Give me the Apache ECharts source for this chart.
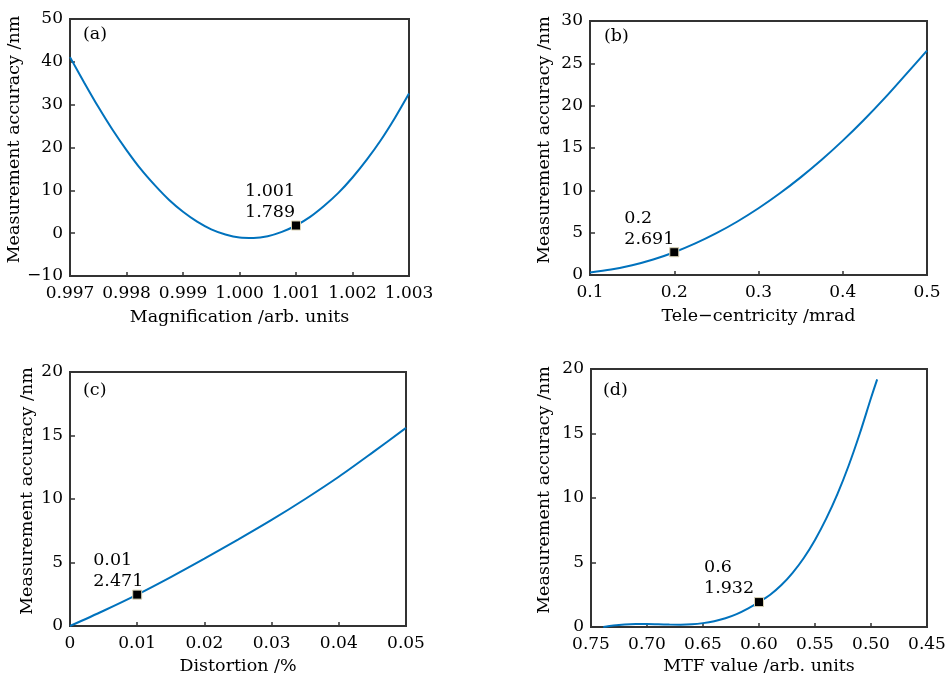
<!DOCTYPE html>
<html>
<head>
<meta charset="utf-8">
<script src="https://cdn.jsdelivr.net/npm/echarts@6/dist/echarts.min.js"></script>
<style>html,body{margin:0;padding:0;background:#fff}#c{width:951px;height:676px}</style>
</head>
<body>
<div id="c"></div>
<script>
// (a) Magnification
const magX = [0.997, 0.99725, 0.9975, 0.99775, 0.998, 0.99825, 0.9985, 0.99875, 0.999, 0.99925, 0.9995, 0.99975, 1.000, 1.00025, 1.0005, 1.00075, 1.001, 1.00125, 1.0015, 1.00175, 1.002, 1.00225, 1.0025, 1.00275, 1.003];
const magY = [41.1, 35.2, 29.5, 24.2, 19.4, 15.0, 11.2, 7.8, 5.0, 2.7, 0.9, -0.3, -1.0, -1.1, -0.7, 0.3, 1.789, 3.8, 6.4, 9.4, 13.0, 17.1, 21.7, 26.9, 32.6];
const magMark = [1.001, 1.789];
// (b) Tele-centricity
const teleX = [0.1, 0.125, 0.15, 0.175, 0.2, 0.225, 0.25, 0.275, 0.3, 0.325, 0.35, 0.375, 0.4, 0.425, 0.45, 0.475, 0.5];
const teleY = [0.30, 0.64, 1.15, 1.83, 2.691, 3.73, 4.94, 6.32, 7.88, 9.62, 11.53, 13.61, 15.87, 18.31, 20.92, 23.70, 26.5];
const teleMark = [0.2, 2.691];
// (c) Distortion
const distX = [0, 0.005, 0.01, 0.015, 0.02, 0.025, 0.03, 0.035, 0.04, 0.045, 0.05];
const distY = [0, 1.2, 2.471, 3.85, 5.3, 6.8, 8.35, 10.0, 11.75, 13.65, 15.6];
const distMark = [0.01, 2.471];
// (d) MTF value
const mtfX = [0.739, 0.73, 0.72, 0.71, 0.70, 0.69, 0.68, 0.67, 0.66, 0.65, 0.64, 0.63, 0.62, 0.61, 0.60, 0.59, 0.58, 0.57, 0.56, 0.55, 0.54, 0.53, 0.52, 0.51, 0.50, 0.4945];
const mtfY = [0.0, 0.12, 0.2, 0.23, 0.23, 0.21, 0.19, 0.18, 0.21, 0.3, 0.45, 0.68, 1.0, 1.43, 1.932, 2.5, 3.25, 4.2, 5.35, 6.75, 8.4, 10.3, 12.5, 15.0, 17.75, 19.2];
const mtfMark = [0.6, 1.932];

const yTitle = 'Measurement accuracy /nm';
const xTitles = ['Magnification /arb. units', 'Tele\u2212centricity /mrad', 'Distortion /%', 'MTF value /arb. units'];
const panelTags = ['(a)', '(b)', '(c)', '(d)'];

const FONT = 'DejaVu Serif';
const AX = '#333333';
const BLUE = '#0072BD';
const TICK_FS = 17;
const TITLE_FS = 17.5;

const chart = echarts.init(document.getElementById('c'), null, {renderer: 'canvas'});

const grids = [
  {left: 70, top: 19, width: 339, height: 257},
  {left: 590, top: 21, width: 337, height: 254},
  {left: 70, top: 372, width: 336, height: 255},
  {left: 591, top: 369, width: 336, height: 260}
];

function xAx(i, min, max, interval, fmt, gap, inverse) {
  return {
    type: 'value', gridIndex: i, min: min, max: max, interval: interval, inverse: !!inverse,
    name: xTitles[i], nameLocation: 'middle', nameGap: gap,
    nameTextStyle: {fontFamily: FONT, fontSize: TITLE_FS, color: '#000'},
    axisLine: {show: true, onZero: false, lineStyle: {color: AX, width: 2}},
    axisTick: {show: true, inside: true, length: 4, lineStyle: {color: AX, width: 1.5}},
    axisLabel: {fontFamily: FONT, fontSize: TICK_FS, color: '#000', margin: 9, formatter: fmt, showMinLabel: true, showMaxLabel: true},
    splitLine: {show: false}
  };
}
function yAx(i, min, max, interval, gap) {
  return {
    type: 'value', gridIndex: i, min: min, max: max, interval: interval,
    name: yTitle, nameLocation: 'middle', nameGap: gap, nameRotate: 90,
    nameTextStyle: {fontFamily: FONT, fontSize: TITLE_FS, color: '#000', padding: [0, 0, 0, 16]},
    axisLine: {show: true, onZero: false, lineStyle: {color: AX, width: 2}},
    axisTick: {show: true, inside: true, length: 5, lineStyle: {color: AX, width: 1.5}},
    axisLabel: {fontFamily: FONT, fontSize: TICK_FS, color: '#000', margin: 7,
      formatter: v => String(v).replace('-', '\u2212')},
    splitLine: {show: false}
  };
}

function zip(xs, ys) { return xs.map((x, k) => [x, ys[k]]); }

function curve(i, xs, ys) {
  return {type: 'line', xAxisIndex: i, yAxisIndex: i, data: zip(xs, ys), showSymbol: false,
    smooth: 0.3, lineStyle: {color: BLUE, width: 2}, silent: true, z: 2};
}
function marker(i, pt, pos) {
  return {type: 'scatter', xAxisIndex: i, yAxisIndex: i, data: [pt], symbol: 'rect', symbolSize: 9,
    itemStyle: {color: '#000', borderColor: '#d9d2b4', borderWidth: 1, opacity: 1}, z: 5, silent: true,
    label: {show: true, position: pos, align: 'left', verticalAlign: 'bottom',
      fontFamily: FONT, fontSize: TITLE_FS, lineHeight: 21, color: '#000', opacity: 1,
      formatter: p => p.value[0] + '\n' + p.value[1]}};
}

const tagPos = [[83, 25], [604, 27], [83, 381], [603, 381]];

chart.setOption({
  animation: false,
  backgroundColor: '#fff',
  grid: grids.map(g => Object.assign({show: true, borderColor: AX, borderWidth: 2, containLabel: false}, g)),
  xAxis: [
    xAx(0, 0.997, 1.003, 0.001, v => v.toFixed(3), 32),
    xAx(1, 0.1, 0.5, 0.1, v => v.toFixed(1), 32),
    xAx(2, 0, 0.05, 0.01, v => (Math.abs(v) < 1e-9 ? '0' : v.toFixed(2)), 31),
    xAx(3, 0.45, 0.75, 0.05, v => v.toFixed(2), 30, true)
  ],
  yAxis: [
    yAx(0, -10, 50, 10, 40),
    yAx(1, 0, 30, 5, 37),
    yAx(2, 0, 20, 5, 34),
    yAx(3, 0, 20, 5, 38)
  ],
  series: [
    curve(0, magX, magY), marker(0, magMark, [-46, 2]),
    curve(1, teleX, teleY), marker(1, teleMark, [-45, 3]),
    curve(2, distX, distY), marker(2, distMark, [-39, 2]),
    curve(3, mtfX, mtfY), marker(3, mtfMark, [-50, 2])
  ],
  graphic: panelTags.map((t, k) => ({
    type: 'text', left: tagPos[k][0], top: tagPos[k][1],
    style: {text: t, fontFamily: FONT, fontSize: TITLE_FS, fill: '#000'}
  }))
});
</script>
</body>
</html>
